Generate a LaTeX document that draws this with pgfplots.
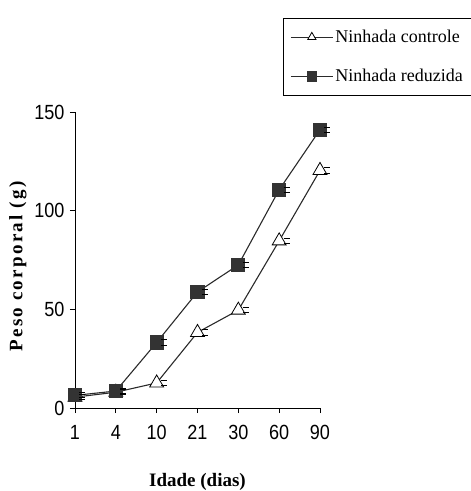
\documentclass[border=0pt]{standalone}
\usepackage{fontspec}
\setmainfont{Liberation Serif}
\setsansfont{Liberation Sans}[FakeStretch=0.88]
\usepackage{pgfplots}
\pgfplotsset{compat=1.18}

% standard-error caps, drawn as two short strokes right of the marker
\pgfdeclareplotmark{secap}{%
  \pgfpathmoveto{\pgfpoint{4.5pt}{2.6pt}}%
  \pgfpathlineto{\pgfpoint{10.5pt}{2.6pt}}%
  \pgfpathmoveto{\pgfpoint{4.5pt}{-2.6pt}}%
  \pgfpathlineto{\pgfpoint{10.5pt}{-2.6pt}}%
  \pgfusepathqstroke}

\definecolor{sqfill}{HTML}{333333}
\definecolor{linegray}{HTML}{2A2A2A}

\pgfplotstableread{
x  ctrl   red
0  5.5    6.4
1  8.0    8.6
2  12.7   33.2
3  38.3   58.8
4  49.6   72.5
5  84.7   110.6
6  120.4  141.0
}\weights

\begin{document}
\begin{tikzpicture}
\useasboundingbox (-75pt,-83pt) rectangle (396pt,408pt);
\begin{axis}[
  scale only axis,
  width=245pt, height=296pt,
  xmin=0, xmax=6, ymin=0, ymax=150,
  axis x line*=bottom, axis y line*=left,
  xtick={0,...,6},
  xticklabels={1,4,10,21,30,60,90},
  ytick={0,50,100,150},
  tick align=outside,
  major tick length=5pt,
  tick style={black, line width=0.8pt},
  axis line style={line width=0.8pt},
  /pgf/number format/assume math mode=true,
  ticklabel style={font=\sffamily\fontsize{20.5}{22}\selectfont},
  xticklabel style={yshift=-9pt},
  yticklabel style={xshift=-2pt},
  xlabel={\bfseries Idade (dias)},
  xlabel style={at={(axis description cs:0.5,-0.25)}, anchor=center,
    font=\fontsize{19}{22}\selectfont},
  ylabel={\bfseries\addfontfeature{LetterSpace=12}Peso corporal (g)},
  ylabel style={at={(axis description cs:-0.233,0.478)}, anchor=center,
    rotate=0, font=\fontsize{19}{22}\selectfont},
  clip=false,
  legend style={at={(axis description cs:0.849,1.318)}, anchor=north west,
    draw=black, line width=0.6pt, font=\fontsize{18}{20}\selectfont,
    inner xsep=7pt, inner ysep=10pt, row sep=21pt,
    nodes={inner sep=2pt}},
  legend cell align=left,
  legend image code/.code={%
    \draw[mark repeat=2, mark phase=2, #1, mark size=4.8pt]
      plot coordinates {(0pt,0pt) (21pt,0pt) (42pt,0pt)};},
]
\addplot[linegray, line width=1.1pt, mark=triangle*, mark size=8pt,
  mark options={fill=white, draw=black, line width=0.8pt}]
  table[x=x, y=ctrl] {\weights};
\addlegendentry{Ninhada controle}
\addplot[linegray, line width=1.1pt, mark=square*, mark size=6.5pt,
  mark options={fill=sqfill, draw=sqfill}]
  table[x=x, y=red] {\weights};
\addlegendentry{Ninhada reduzida}
% error caps for both series
\addplot[only marks, mark=secap, mark options={black, line width=1pt}, forget plot]
  table[x=x, y=ctrl] {\weights};
\addplot[only marks, mark=secap, mark options={black, line width=1pt}, forget plot]
  table[x=x, y=red] {\weights};
\end{axis}
\end{tikzpicture}
\end{document}
